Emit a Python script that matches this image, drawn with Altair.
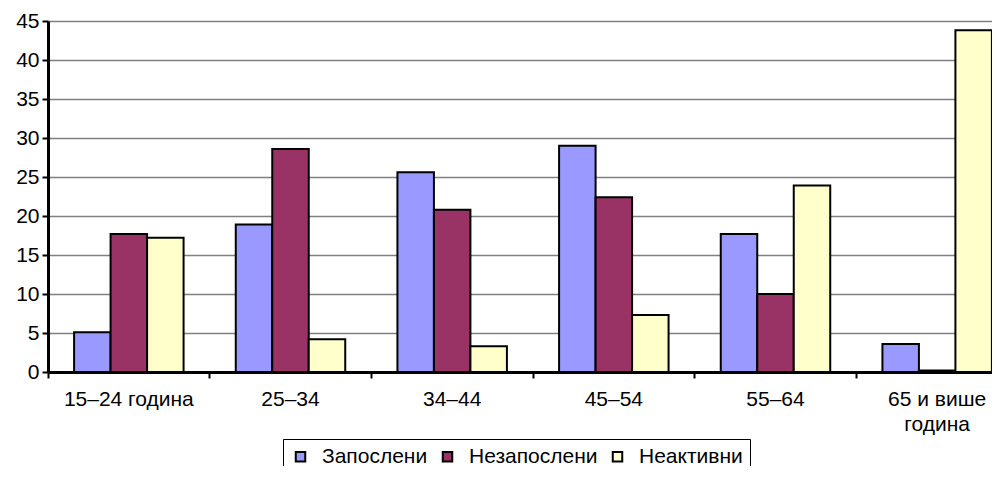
import altair as alt
import pandas as pd

categories = ["15–24 година", "25–34", "34–44", "45–54", "55–64", "65 и више година"]
series = ["Запослени", "Незапослени", "Неактивни"]
zaposleni = [5.1, 18.9, 25.6, 29.0, 17.7, 3.6]
nezaposleni = [17.7, 28.6, 20.8, 22.4, 10.0, 0.2]
neaktivni = [17.2, 4.2, 3.3, 7.3, 23.9, 43.8]
colors = ["#9999FF", "#993366", "#FFFFCC"]
y_ticks = [0, 5, 10, 15, 20, 25, 30, 35, 40, 45]

rows = []
for name, vals in zip(series, [zaposleni, nezaposleni, neaktivni]):
    for c, v in zip(categories, vals):
        rows.append({"cat": c, "series": name, "value": v})
df = pd.DataFrame(rows)

FONT = "Liberation Sans"
W = 970
H = 351

chart = (
    alt.Chart(df)
    .mark_bar(stroke="black", strokeWidth=2)
    .encode(
        x=alt.X(
            "cat:N",
            sort=categories,
            scale=alt.Scale(paddingInner=0, paddingOuter=0),
            axis=alt.Axis(
                title=None,
                labelAngle=0,
                bandPosition=0,
                labelPadding=10,
                labelFontSize=21,
                labelColor="black",
                labelFont=FONT,
                labelOverlap=False,
                labelLineHeight=25,
                labelExpr="datum.label == '65 и више година' ? ['65 и више', 'година'] : datum.label",
                tickColor="black",
                tickWidth=2,
                tickSize=6,
                domainColor="black",
                domainWidth=3,
                grid=False,
            ),
        ),
        xOffset=alt.XOffset(
            "series:N",
            sort=series,
            scale=alt.Scale(paddingInner=0, paddingOuter=0.715),
        ),
        y=alt.Y(
            "value:Q",
            scale=alt.Scale(domain=[0, 45], nice=False),
            axis=alt.Axis(
                title=None,
                values=y_ticks,
                labelFontSize=21,
                labelColor="black",
                labelFont=FONT,
                labelPadding=3,
                tickColor="black",
                tickWidth=2,
                tickSize=6,
                domainColor="black",
                domainWidth=3,
                grid=True,
                gridColor="#808080",
                gridWidth=1.5,
            ),
        ),
        color=alt.Color(
            "series:N",
            sort=series,
            scale=alt.Scale(domain=series, range=colors),
            legend=alt.Legend(
                title=None,
                orient="none",
                legendX=235,
                legendY=418,
                direction="horizontal",
                symbolType="square",
                symbolSize=90,
                symbolStrokeColor="black",
                symbolStrokeWidth=2,
                symbolOpacity=1,
                labelFontSize=21,
                labelFont=FONT,
                labelColor="black",
                labelOffset=11,
                columnPadding=9,
                padding=7,
                strokeColor="black",
            ),
        ),
    )
    .properties(width=W, height=H, padding={"left": 7, "top": 2, "right": -26, "bottom": -9})
    .configure_view(stroke=None)
    .configure_legend(strokeWidth=2)
    .configure(font=FONT)
)

chart.save("out.html", embed_options={"renderer": "svg", "actions": False})
